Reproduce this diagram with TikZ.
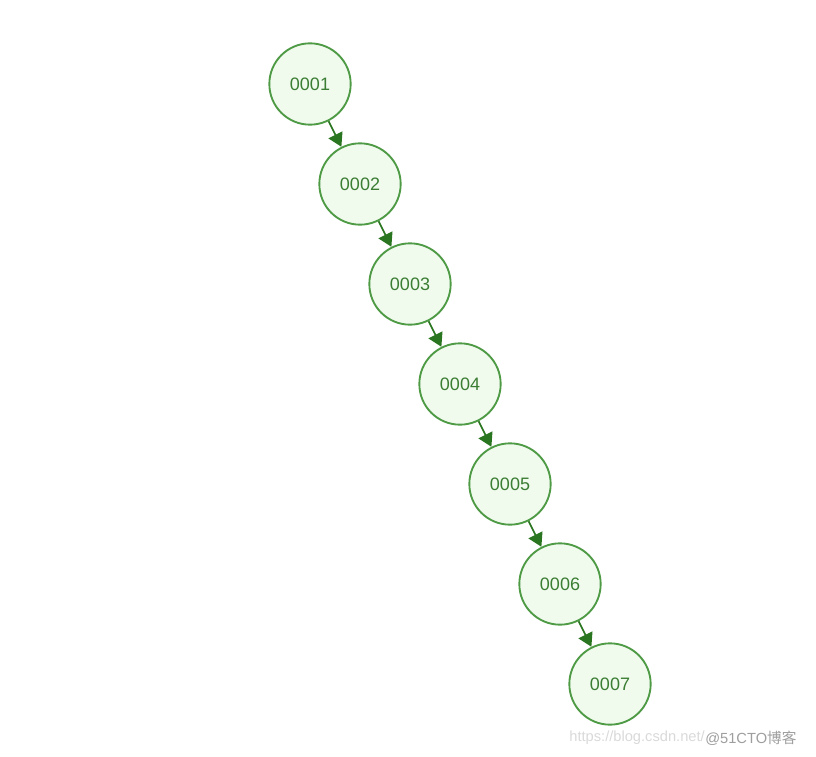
\documentclass[tikz,border=0pt]{standalone}
\usepackage{fontspec}
\setmainfont{Liberation Sans}
\newfontfamily\cjkfont{Noto Sans CJK SC}
\usetikzlibrary{arrows.meta}
\definecolor{ringgreen}{HTML}{4E9A45}
\definecolor{leafgreen}{HTML}{F0FBEE}
\definecolor{textgreen}{HTML}{3B7D33}
\definecolor{arrowgreen}{HTML}{2A7520}
\begin{document}
\begin{tikzpicture}[x=0.75pt,y=-0.75pt,
    key/.style={circle,draw=ringgreen,fill=leafgreen,line width=1.4pt,
      minimum size=61pt,inner sep=0pt,text=textgreen,
      font=\fontsize{13.5}{13.5}\selectfont},
    link/.style={draw=arrowgreen,line width=1.3pt,-{Triangle[length=10pt,width=11.5pt]}},
    mark url/.style={text=black!15,font=\fontsize{11}{11}\selectfont,inner sep=0pt},
    mark tag/.style={text=black!38,font=\fontsize{11}{11}\selectfont,inner sep=0pt}]
  \useasboundingbox (0,0) rectangle (816,756);
  %% the degenerate tree : every key hangs right of the previous one
  \foreach \i in {1, ..., 7} \node[key] (k\i) at (260+50*\i,-16+100*\i) {000\i};%
  \foreach \a/\b in {1/2, 2/3, 3/4, 4/5, 5/6, 6/7} \draw[link] (k\a) -- (k\b);%

  %% watermark
  \node[mark url,anchor=east] (url) at (705,738) {https://blog.csdn.net/};
  \node[mark tag,anchor=west] (tag) at (url.east) {@51CTO{\cjkfont 博客}};
\end{tikzpicture}
\end{document}
